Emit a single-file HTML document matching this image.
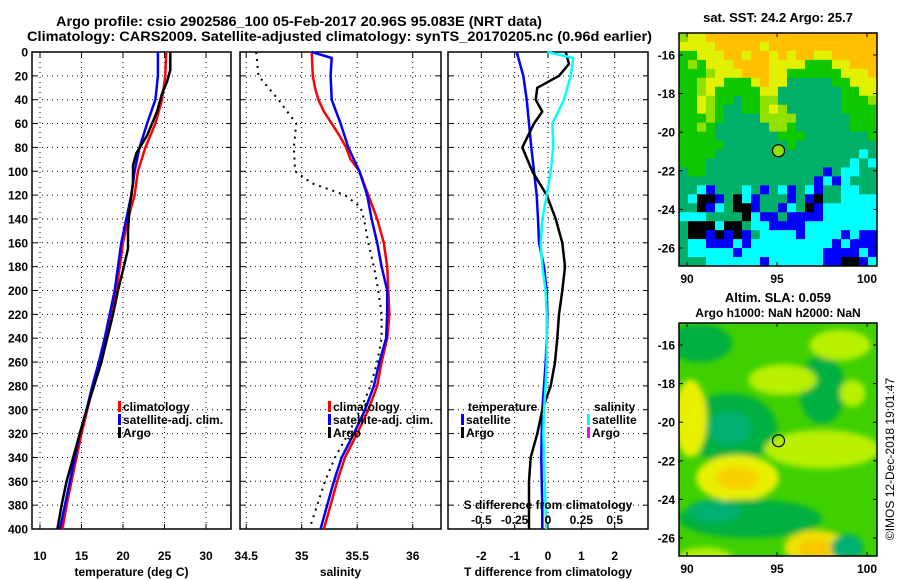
<!DOCTYPE html>
<html><head><meta charset="utf-8"><style>
body{margin:0;background:#fff;}
svg{display:block;font-family:"Liberation Sans",Arial,sans-serif;font-weight:bold;}
</style></head><body>
<svg id="fig" width="900" height="580" viewBox="0 0 900 580" xmlns="http://www.w3.org/2000/svg">
<text x="56" y="26" font-size="14" textLength="486" lengthAdjust="spacingAndGlyphs">Argo profile: csio 2902586_100 05-Feb-2017 20.96S 95.083E (NRT data)</text>
<text x="27" y="41" font-size="14" textLength="625" lengthAdjust="spacingAndGlyphs">Climatology: CARS2009. Satellite-adjusted climatology: synTS_20170205.nc (0.96d earlier)</text>
<g id="p1"></g>
<g id="p2"></g>
<g id="p3"></g>
<g id="m1"></g>
<g id="m2"></g>
</svg>
<script>
// ---- data ----
const depths = [0,20,40,60,80,100,120,140,160,180,200,220,240,260,280,300,320,340,360,380,400];
const tempClim = [25.2,25.1,24.7,23.9,22.7,21.8,21.4,20.6,20.0,19.6,19.2,18.6,18.0,17.2,16.4,15.7,15.0,14.4,13.8,13.2,12.7];
const tempSat  = [24.2,24.2,23.9,22.9,22.0,21.4,21.0,20.4,19.8,19.4,19.0,18.4,17.8,17.1,16.3,15.6,14.8,14.2,13.6,13.0,12.4];
const argoDepths = [0,15,25,35,50,60,70,85,95,110,130,150,165,180,200,220,240,260,280,300,320,340,360,380,400];
const tempArgo = [25.7,25.7,25.3,24.7,24.1,23.5,22.9,21.6,21.2,21.2,20.8,20.6,20.6,20.1,19.4,18.8,18.1,17.4,16.5,15.6,14.8,14.0,13.2,12.6,12.1];
const salDepths = [0,20,30,40,50,60,70,80,90,100,120,140,160,180,200,220,240,260,280,300,320,340,360,380,400];
const salClim = [35.09,35.10,35.12,35.15,35.20,35.27,35.34,35.40,35.44,35.52,35.60,35.68,35.74,35.77,35.78,35.79,35.77,35.72,35.68,35.60,35.50,35.39,35.32,35.26,35.20];
const satDepths = [0,5,20,40,50,60,80,100,120,140,160,180,200,220,240,260,280,300,320,340,360,380,400];
const salSat = [35.09,35.27,35.26,35.27,35.31,35.35,35.42,35.52,35.59,35.63,35.68,35.72,35.77,35.77,35.76,35.70,35.65,35.57,35.47,35.36,35.29,35.23,35.17];
const salArgoDepths = [0,20,40,60,80,100,110,120,130,140,160,180,200,220,240,260,280,300,320,340,360,380,400];
const salArgo = [34.59,34.61,34.79,34.95,34.93,34.94,35.09,35.39,35.53,35.56,35.60,35.65,35.69,35.72,35.72,35.68,35.62,35.53,35.42,35.30,35.21,35.14,35.07];
const dTsat = [-0.94,-0.74,-0.64,-0.57,-0.50,-0.42,-0.34,-0.30,-0.27,-0.12,-0.04,-0.02,-0.04,-0.07,-0.12,-0.17,-0.19,-0.20,-0.19,-0.17,-0.17];
const dArgoDepths = [0,10,20,30,40,50,60,80,100,120,140,160,180,200,220,240,260,280,300,320,340,360,380,400];
const dTargo = [0.53,0.63,0.33,-0.32,-0.37,-0.17,-0.42,-0.77,-0.47,-0.04,0.23,0.43,0.51,0.43,0.33,0.28,0.21,0.08,-0.17,-0.32,-0.52,-0.57,-0.57,-0.57];
const dSdepths = [0,5,20,40,60,80,100,120,140,160,180,200,220,240,260,280,300,320,340,360,380,400];
const dSsat = [-0.005,0.19,0.17,0.12,0.033,0.04,0.02,-0.01,-0.043,-0.055,-0.043,-0.018,-0.01,-0.01,-0.01,-0.018,-0.03,-0.035,-0.03,-0.025,-0.018,-0.013];
const depthTicks = [0,20,40,60,80,100,120,140,160,180,200,220,240,260,280,300,320,340,360,380,400];
const tTicks = [10,15,20,25,30];
const sTicks = [34.5,35,35.5,36];
const dTticks = [-2,-1,0,1,2];
const dSticks = [-0.5,-0.25,0,0.25,0.5];
const dSlabels = ["-0.5","-0.25","0","0.25","0.5"];
const latTicks = [-16,-18,-20,-22,-24,-26];
const lonTicks = [90,95,100];
const argoLon = 95.083, argoLat = -20.96;

const NS="http://www.w3.org/2000/svg";
function mk(tag,attrs,parent,txt){const e=document.createElementNS(NS,tag);for(const k in attrs)e.setAttribute(k,attrs[k]);if(txt!==undefined)e.textContent=txt;parent.appendChild(e);return e;}
const Y0=52,Y1=529;
const yD=d=>Y0+(d/400)*(Y1-Y0);
function panel(g,x0,x1,xmin,xmax,xticks,xlabels,xtitle,showY,name){
  const sx=v=>x0+(v-xmin)/(xmax-xmin)*(x1-x0);
  depthTicks.forEach(d=>{ if(d>0&&d<400){const l=mk('line',{x1:x0,x2:x1,y1:yD(d),y2:yD(d),stroke:'#000','stroke-width':1,'stroke-dasharray':'1 4'},g);
    }
    mk('line',{x1:x0,x2:x0+5,y1:yD(d),y2:yD(d),stroke:'#000'},g);mk('line',{x1:x1-5,x2:x1,y1:yD(d),y2:yD(d),stroke:'#000'},g);
    if(showY){const t=mk('text',{x:28,y:yD(d)+4.5,'font-size':12,'text-anchor':'end'},g,String(d));
      }
  });
  xticks.forEach((v,i)=>{const X=sx(v);
    const l=mk('line',{x1:X,x2:X,y1:Y0,y2:Y1,stroke:'#000','stroke-width':1,'stroke-dasharray':'1 4'},g);
    
    mk('line',{x1:X,x2:X,y1:Y0,y2:Y0+5,stroke:'#000'},g);mk('line',{x1:X,x2:X,y1:Y1-5,y2:Y1,stroke:'#000'},g);
    const t=mk('text',{x:X,y:560,'font-size':12,'text-anchor':'middle'},g,xlabels[i]);
    });
  const fr=mk('rect',{x:x0,y:Y0,width:x1-x0,height:Y1-Y0,fill:'none',stroke:'#000','stroke-width':1.5},g);
  
  const tt=mk('text',{x:(x0+x1)/2,y:576,'font-size':12,'text-anchor':'middle'},g,xtitle);
  
  return sx;
}
function line(g,sx,xs,ds,color,nm,dash){
  const pts=xs.map((v,i)=>sx(v).toFixed(1)+','+yD(ds[i]).toFixed(1)).join(' ');
  const a={points:pts,fill:'none',stroke:color,'stroke-width':dash?2:2.5,'stroke-linejoin':'round'};
  if(dash)a['stroke-dasharray']=dash;
  const p=mk('polyline',a,g);
  
}
function legend(g,x,y,color,label,nm){
  const r=mk('rect',{x:x,y:y-10,width:3,height:11,fill:color},g);
  const t=mk('text',{x:x+5,y:y,'font-size':12},g,label);
  
  
}
// Panel 1
const g1=document.getElementById('p1');
const sx1=panel(g1,32,231,9.036,33.01,tTicks,tTicks.map(String),'temperature (deg C)',true,'temperature');
line(g1,sx1,tempClim,depths,'#ff0000','temp-climatology-line');
line(g1,sx1,tempSat,depths,'#0000ff','temp-satellite-line');
line(g1,sx1,tempArgo,argoDepths,'#000','temp-argo-line');
legend(g1,118,411,'#f00','climatology','legend-climatology');
legend(g1,118,424,'#00f','satellite-adj. clim.','legend-satellite-adj');
legend(g1,118,437,'#000','Argo','legend-argo');
// Panel 2
const g2=document.getElementById('p2');
const sx2=panel(g2,240,441,34.444,36.255,sTicks,sTicks.map(String),'salinity',false,'salinity');
line(g2,sx2,salClim,salDepths,'#ff0000','sal-climatology-line');
line(g2,sx2,salSat,satDepths,'#0000ff','sal-satellite-line');
line(g2,sx2,salArgo,salArgoDepths,'#000','sal-argo-line','2 5');
legend(g2,328,411,'#f00','climatology','legend-climatology');
legend(g2,328,424,'#00f','satellite-adj. clim.','legend-satellite-adj');
legend(g2,328,437,'#000','Argo','legend-argo');
// Panel 3
const g3=document.getElementById('p3');
const sx3=panel(g3,448,648,-3,3,dTticks,dTticks.map(String),'T difference from climatology',false,'tdiff');
const sxS=v=>sx3(v*4);
line(g3,sx3,dTsat,depths,'#0000ff','tdiff-satellite-line');
line(g3,sx3,dTargo,dArgoDepths,'#000','tdiff-argo-line');
line(g3,sxS,dSsat,dSdepths,'#00ffff','sdiff-satellite-line');
let t=mk('text',{x:468,y:411,'font-size':12},g3,'temperature');
t=mk('text',{x:594,y:411,'font-size':12},g3,'salinity');
legend(g3,461,424,'#00f','satellite','legend-t-satellite');
legend(g3,461,437,'#000','Argo','legend-t-argo');
legend(g3,587,424,'#0ff','satellite','legend-s-satellite');
legend(g3,587,437,'#f0f','Argo','legend-s-argo');
t=mk('text',{x:548,y:509,'font-size':12,'text-anchor':'middle'},g3,'S difference from climatology');
dSticks.forEach((v,i)=>{const tt=mk('text',{x:sxS(v),y:524,'font-size':12,'text-anchor':'middle'},g3,dSlabels[i]);
  });

// ---- maps ----
const MX0=679,MX1=877;
const lonX=l=>687+(l-90)*18;
function mapAxes(g,top,name){
  const latY=la=>top+22+(-16-la)*19.3;
  latTicks.forEach(la=>{const Y=latY(la);
    mk('line',{x1:MX0,x2:MX0+4,y1:Y,y2:Y,stroke:'#000'},g);mk('line',{x1:MX1-4,x2:MX1,y1:Y,y2:Y,stroke:'#000'},g);
    const tt=mk('text',{x:675,y:Y+4.5,'font-size':12,'text-anchor':'end'},g,String(la));
    });
  lonTicks.forEach(lo=>{const X=lonX(lo);
    mk('line',{x1:X,x2:X,y1:top,y2:top+4,stroke:'#000'},g);mk('line',{x1:X,x2:X,y1:top+233-4,y2:top+233,stroke:'#000'},g);
    const tt=mk('text',{x:X,y:top+250,'font-size':12,'text-anchor':'middle'},g,String(lo));
    });
  const fr=mk('rect',{x:MX0,y:top,width:MX1-MX0,height:233,fill:'none',stroke:'#000','stroke-width':1.5},g);
  
  return latY;
}
// SST map grid
const sstRows=["LYYOOOOOOOOOOOOOOOOOOO","YYYYOOOOOYOOOOOOOOOOOO","GGYYYOOYOOYOYOOYYOOOOO","GLGYYYOOOOYYYYGGGYYOOO","GGGLYYYOOOYYGGGGGGYYYO","GGLYYGGGYOYYTTTTTGGYYY","GGLYGGGGGYYTTTTTTTGGYY","GGYLGGTGGLLTTTTTTTGGGL","GGYLGTTGGLYLTTTTTTGGGG","GGGLGTTTTLLLLTTTTTTGGG","GGLGTTTTTTLLGTTTTTTGGG","GGGGTTTTTTTGGGTTTTTTTG","GGGGGTTTTTTTGTTTTTTTTT","GGGGTTTTTTTTTTTTTTTTCT","GGGTTTTTTTTTTTTTTTTCTC","TGGTTTTTTTTTTTTTBTCCTT","TTTTTTTTTTTTTTTBCBCTTT","TTCBTTTCTBTCBTCBTTCCTT","TCKKBTKCBTTTBTBKTTCCCC","TTKBCTKKBTTBCTKBCCCCCC","CCCTTTTKCBBTBBBBCCCCCC","TKKKCKKTCCBBBBCCCCCCCC","TKKBKBKBTCCCCBCCCCBCBB","TCCBBBCBCCCCCCCCCBCBBB","TCCCCCBCCCCCCCCCBBBBCB","TTTCCCCCCBCCCCCCBBKKBC"];
const sstColors={O:'#ffc000',Y:'#e0f000',L:'#90e000',G:'#10c800',T:'#00b068',C:'#00ffff',B:'#0000ff',K:'#000000'};
const m1=document.getElementById('m1');
const cw=(MX1-MX0)/22, ch=233/26;
sstRows.forEach((row,r)=>{for(let c=0;c<row.length;c++){
  const cell=mk('rect',{x:(MX0+c*cw).toFixed(2),y:(33+r*ch).toFixed(2),width:(cw+0.5).toFixed(2),height:(ch+0.5).toFixed(2),fill:sstColors[row[c]]},m1);
  }});
const lat1=mapAxes(m1,33,'sst-map');
let c1=mk('circle',{cx:lonX(argoLon),cy:lat1(argoLat),r:6,fill:'#90e000',stroke:'#000','stroke-width':1.2},m1);

t=mk('text',{x:778,y:22,'font-size':13,'text-anchor':'middle'},m1,'sat. SST: 24.2 Argo: 25.7');

// SLA map blobs
const slaLon=[90.7,92.4,92.4,97.5,90.2,92.8,92.8,97.5,95.3,98.5,93.5,91.5,97.2,97.2,98.9,99.2,91.0];
const slaLat=[-15.9,-20.3,-20.3,-18.3,-19.8,-22.9,-22.9,-21.4,-17.8,-16.0,-25.0,-24.6,-26.5,-26.6,-26.5,-18.5,-27.0];
const slaRx=[1.8,2.6,1.2,1.3,0.9,2.3,1.2,3.2,1.9,1.7,4.0,1.5,1.8,1.0,0.9,0.7,1.5];
const slaRy=[1.0,1.8,0.9,1.8,2.0,1.2,0.6,1.0,0.8,0.8,1.0,0.6,0.9,0.5,0.7,0.7,0.5];
const slaCol=['#00b040','#00b040','#00b070','#00b040','#e8f000','#e8f000','#f8d000','#b8f000','#b8f000','#b8f000','#00b040','#00b070','#f0e000','#f8c800','#00b070','#b8f000','#b8f000'];
const m2=document.getElementById('m2');
const defs=mk('defs',{},m2);
const cp=mk('clipPath',{id:'slaclip'},defs);mk('rect',{x:MX0,y:323,width:MX1-MX0,height:233},cp);
const flt=mk('filter',{id:'blur',x:'-50%',y:'-50%',width:'200%',height:'200%'},defs);mk('feGaussianBlur',{stdDeviation:3},flt);
const sg=mk('g',{'clip-path':'url(#slaclip)'},m2);
mk('rect',{x:MX0,y:323,width:MX1-MX0,height:233,fill:'#40d000'},sg);
const latY2=la=>345+(-16-la)*19.3;
const bg=mk('g',{filter:'url(#blur)'},sg);
slaLon.forEach((lo,i)=>{const e=mk('ellipse',{cx:lonX(lo),cy:latY2(slaLat[i]),rx:slaRx[i]*18,ry:slaRy[i]*19.3,fill:slaCol[i]},bg);
  });
const lat2=mapAxes(m2,323,'sla-map');
let c2=mk('circle',{cx:lonX(argoLon),cy:lat2(argoLat),r:6,fill:'none',stroke:'#000','stroke-width':1.2},m2);

t=mk('text',{x:778,y:302,'font-size':13,'text-anchor':'middle'},m2,'Altim. SLA: 0.059');
t=mk('text',{x:778,y:317,'font-size':12,'text-anchor':'middle'},m2,'Argo h1000: NaN h2000: NaN');
t=mk('text',{x:0,y:0,'font-size':12,'font-weight':'normal','text-anchor':'middle',transform:'translate(894,459) rotate(-90)'},m2,'©IMOS 12-Dec-2018 19:01:47');

</script>
</body></html>
